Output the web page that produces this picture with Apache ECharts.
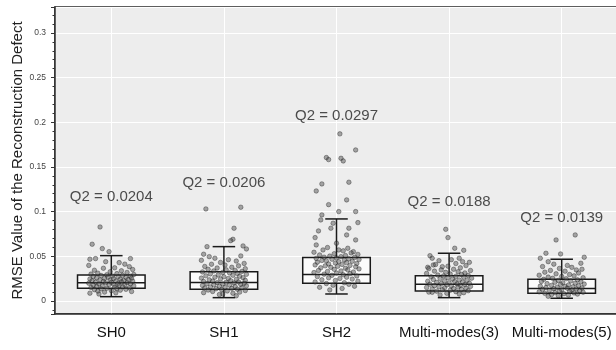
<!DOCTYPE html>
<html>
<head>
<meta charset="utf-8">
<script src="https://cdn.jsdelivr.net/npm/echarts@6/dist/echarts.min.js"></script>
<style>
  html, body { margin: 0; padding: 0; background: #fff; }
  #chart { width: 616px; height: 350px; }
</style>
</head>
<body>
<div id="chart"></div>
<script>
// categories and box stats [lower whisker, Q1, median, Q3, upper whisker]
const categories = ['SH0', 'SH1', 'SH2', 'Multi-modes(3)', 'Multi-modes(5)']
const boxStats = [
  [0.0048, 0.0142, 0.0204, 0.0291, 0.0507],
  [0.0037, 0.0131, 0.0206, 0.0328, 0.0608],
  [0.0078, 0.0198, 0.0297, 0.0485, 0.0918],
  [0.0037, 0.0112, 0.0188, 0.0283, 0.0534],
  [0.0030, 0.0086, 0.0139, 0.0243, 0.0467]
]
const q2Text = ['0.0204', '0.0206', '0.0297', '0.0188', '0.0139']
const labelY = [0.1168, 0.1318, 0.2074, 0.1110, 0.0932]

// jittered samples: [offset from category centre, value]
const ptsSH0 = [[-0.10,0.0828],[-0.17,0.0635],[-0.08,0.0586],[-0.02,0.0552],[0.17,0.0474],[-0.19,0.0467],[-0.14,0.0474],[-0.05,0.0440],[0.07,0.0429],[0.16,0.0384],[-0.11,0.0078],
  [0.12,0.0412],[-0.20,0.0398],[0.03,0.0371],[-0.07,0.0366],[0.19,0.0352],[-0.15,0.0344],[0.09,0.0338],[-0.01,0.0327],[0.14,0.0319],[-0.12,0.0311],[0.05,0.0306],[-0.18,0.0301],[0.20,0.0296],[-0.04,0.0293],[0.10,0.0288],[-0.09,0.0284],[0.01,0.0279],[0.17,0.0276],[-0.16,0.0273],[0.06,0.0270],[-0.03,0.0264],[0.13,0.0262],[-0.13,0.0259],[0.18,0.0255],[-0.06,0.0252],[0.02,0.0249],[-0.19,0.0246],[0.08,0.0243],[0.15,0.0239],[-0.10,0.0236],[-0.01,0.0233],[0.11,0.0230],[-0.17,0.0226],[0.04,0.0223],[0.19,0.0221],[-0.07,0.0218],[0.09,0.0214],[-0.14,0.0211],[0.00,0.0208],[0.14,0.0205],[-0.05,0.0202],[-0.20,0.0199],[0.06,0.0196],[0.17,0.0192],[-0.11,0.0189],[0.02,0.0186],[-0.02,0.0183],[0.12,0.0179],[-0.16,0.0175],[0.07,0.0172],[0.20,0.0168],[-0.08,0.0165],[-0.13,0.0161],[0.10,0.0158],[0.03,0.0154],[-0.18,0.0151],[0.16,0.0147],[-0.04,0.0143],[0.05,0.0139],[-0.09,0.0135],[0.13,0.0130],[-0.15,0.0126],[0.08,0.0121],[0.00,0.0116],[-0.12,0.0111],[0.18,0.0106],[-0.06,0.0099],[0.04,0.0091],[-0.19,0.0087]]
const ptsSH1 = [[-0.16,0.1030],[0.15,0.1049],[0.09,0.0814],[0.08,0.0690],[0.06,0.0675],[-0.15,0.0608],[0.17,0.0616],[0.20,0.0582],[-0.18,0.0523],[-0.13,0.0496],[0.15,0.0504],[-0.01,0.0078],
  [-0.08,0.0478],[0.04,0.0462],[-0.20,0.0455],[0.11,0.0447],[-0.03,0.0431],[0.18,0.0420],[-0.11,0.0411],[0.01,0.0402],[0.13,0.0393],[-0.17,0.0386],[0.07,0.0377],[-0.06,0.0369],[0.19,0.0361],[-0.14,0.0354],[0.02,0.0348],[0.10,0.0341],[-0.09,0.0336],[0.16,0.0330],[-0.19,0.0325],[-0.01,0.0319],[0.05,0.0314],[0.12,0.0308],[-0.12,0.0303],[0.20,0.0298],[-0.05,0.0292],[0.08,0.0287],[-0.16,0.0281],[0.14,0.0276],[0.00,0.0271],[-0.08,0.0266],[0.17,0.0261],[-0.20,0.0256],[0.04,0.0251],[-0.03,0.0246],[0.11,0.0241],[-0.13,0.0236],[0.19,0.0231],[0.06,0.0227],[-0.10,0.0222],[-0.18,0.0218],[0.13,0.0213],[0.02,0.0209],[-0.06,0.0205],[0.09,0.0201],[0.18,0.0197],[-0.15,0.0193],[-0.01,0.0189],[0.15,0.0185],[-0.09,0.0181],[0.05,0.0177],[-0.19,0.0173],[0.20,0.0169],[-0.04,0.0165],[0.10,0.0161],[-0.12,0.0157],[0.01,0.0153],[0.16,0.0149],[-0.17,0.0145],[0.07,0.0141],[-0.07,0.0137],[0.12,0.0132],[-0.02,0.0127],[-0.14,0.0122],[0.19,0.0117],[0.03,0.0112],[-0.10,0.0106],[0.14,0.0099],[-0.18,0.0093],[0.08,0.0086],[-0.04,0.0072],[0.11,0.0058]]
const ptsSH2 = [[0.03,0.1870],[0.17,0.1690],[-0.09,0.1605],[-0.07,0.1582],[0.04,0.1597],[0.06,0.1567],[0.11,0.1329],[-0.13,0.1310],[-0.18,0.1231],[0.09,0.1131],[-0.07,0.1078],[0.02,0.1000],[0.17,0.1000],[-0.13,0.0963],
  [-0.14,0.0907],[-0.03,0.0870],[0.19,0.0877],[0.11,0.0814],[-0.16,0.0784],[-0.05,0.0814],[0.09,0.0739],[-0.19,0.0709],[0.00,0.0646],[0.17,0.0683],[-0.18,0.0627],[-0.12,0.0571],[0.02,0.0571],[0.10,0.0590],[0.15,0.0552],
  [-0.08,0.0598],[0.06,0.0561],[-0.20,0.0545],[0.13,0.0538],[-0.02,0.0529],[0.19,0.0521],[-0.15,0.0515],[0.08,0.0508],[-0.06,0.0502],[0.04,0.0496],[-0.11,0.0490],[0.16,0.0487],[0.00,0.0481],[-0.18,0.0476],[0.11,0.0472],[-0.04,0.0467],[0.20,0.0463],[0.07,0.0458],[-0.13,0.0453],[-0.09,0.0449],[0.14,0.0444],[0.02,0.0440],[-0.17,0.0434],[0.09,0.0429],[-0.01,0.0424],[0.18,0.0419],[-0.07,0.0414],[0.05,0.0409],[-0.19,0.0403],[0.12,0.0398],[-0.10,0.0393],[0.01,0.0388],[0.17,0.0382],[-0.05,0.0376],[-0.14,0.0371],[0.08,0.0365],[0.20,0.0359],[-0.02,0.0354],[0.10,0.0348],[-0.16,0.0342],[0.04,0.0336],[-0.08,0.0330],[0.15,0.0324],[-0.20,0.0318],[0.00,0.0312],[0.12,0.0306],[-0.11,0.0300],[0.06,0.0293],[-0.04,0.0287],[0.18,0.0280],[-0.17,0.0273],[0.09,0.0266],[-0.07,0.0259],[0.03,0.0252],[0.14,0.0245],[-0.13,0.0237],[-0.01,0.0229],[0.19,0.0221],[-0.19,0.0213],[0.07,0.0204],[-0.09,0.0195],[0.11,0.0186],[-0.03,0.0176],[0.16,0.0165],[-0.15,0.0153],[0.05,0.0140],[-0.06,0.0124]]
const ptsM3 = [[-0.03,0.0802],[-0.01,0.0709],[0.05,0.0590],[0.13,0.0567],[-0.17,0.0507],[-0.15,0.0478],[0.09,0.0478],[-0.19,0.0377],[-0.14,0.0403],[-0.06,0.0384],[0.12,0.0440],[-0.15,0.0097],
  [0.02,0.0462],[-0.09,0.0451],[0.18,0.0432],[0.06,0.0419],[-0.12,0.0408],[0.15,0.0396],[-0.01,0.0389],[0.10,0.0371],[-0.18,0.0362],[0.04,0.0355],[-0.07,0.0348],[0.19,0.0341],[-0.13,0.0334],[0.08,0.0327],[-0.03,0.0320],[0.14,0.0314],[-0.20,0.0308],[0.01,0.0302],[0.11,0.0296],[-0.10,0.0290],[0.17,0.0285],[-0.05,0.0280],[0.06,0.0275],[-0.16,0.0270],[0.13,0.0265],[-0.01,0.0260],[0.20,0.0255],[-0.08,0.0250],[0.03,0.0245],[-0.14,0.0240],[0.09,0.0235],[0.16,0.0230],[-0.04,0.0226],[-0.19,0.0221],[0.05,0.0217],[0.12,0.0212],[-0.11,0.0208],[0.00,0.0203],[0.18,0.0199],[-0.07,0.0195],[0.07,0.0191],[-0.17,0.0187],[0.14,0.0183],[-0.02,0.0179],[0.10,0.0175],[-0.13,0.0171],[0.02,0.0167],[0.19,0.0163],[-0.09,0.0159],[0.08,0.0155],[-0.20,0.0151],[-0.04,0.0147],[0.15,0.0143],[0.04,0.0139],[-0.15,0.0135],[0.11,0.0130],[-0.06,0.0125],[0.01,0.0120],[0.17,0.0115],[-0.11,0.0110],[0.06,0.0104],[-0.18,0.0099],[0.13,0.0093],[-0.02,0.0086],[0.09,0.0078],[-0.08,0.0068]]
const ptsM5 = [[0.12,0.0739],[-0.05,0.0683],[-0.14,0.0534],[-0.01,0.0526],[-0.19,0.0478],[0.20,0.0489],[-0.12,0.0440],[0.17,0.0422],[0.13,0.0347],
  [-0.07,0.0412],[0.05,0.0398],[-0.17,0.0385],[0.09,0.0376],[-0.02,0.0364],[0.18,0.0355],[-0.10,0.0342],[0.03,0.0333],[-0.15,0.0322],[0.15,0.0313],[-0.05,0.0304],[0.07,0.0296],[-0.20,0.0288],[0.11,0.0281],[0.00,0.0274],[-0.12,0.0267],[0.19,0.0260],[-0.08,0.0254],[0.04,0.0248],[-0.16,0.0242],[0.14,0.0236],[-0.03,0.0230],[0.08,0.0224],[-0.18,0.0219],[0.17,0.0214],[-0.06,0.0209],[0.01,0.0204],[0.12,0.0199],[-0.13,0.0194],[0.20,0.0189],[-0.01,0.0184],[0.06,0.0179],[-0.09,0.0174],[0.15,0.0170],[-0.19,0.0166],[0.03,0.0162],[0.10,0.0158],[-0.04,0.0154],[-0.14,0.0150],[0.18,0.0146],[0.05,0.0142],[-0.07,0.0138],[0.13,0.0134],[-0.17,0.0130],[0.00,0.0126],[0.09,0.0122],[-0.11,0.0118],[0.16,0.0114],[-0.02,0.0110],[0.07,0.0106],[-0.20,0.0102],[0.19,0.0098],[-0.06,0.0094],[0.11,0.0090],[-0.15,0.0086],[0.02,0.0082],[0.14,0.0077],[-0.09,0.0072],[0.06,0.0066],[-0.03,0.0059],[-0.12,0.0052]]
const samples = [ptsSH0, ptsSH1, ptsSH2, ptsM3, ptsM5]

const font = 'Liberation Sans, Arial, Helvetica, sans-serif'

const scatterData = []
samples.forEach(function (pts, i) {
  pts.forEach(function (p) {
    scatterData.push([i + p[0], p[1]])
  })
})

const chart = echarts.init(document.getElementById('chart'))
chart.setOption({
  animation: false,
  grid: {
    left: 55,
    right: -2,
    top: 7,
    bottom: 36,
    outerBoundsMode: 'none',
    containLabel: false,
    show: true,
    backgroundColor: '#ededed',
    borderColor: '#2a2a2a',
    borderWidth: 1.5
  },
  xAxis: [{
    type: 'category',
    data: categories,
    axisLine: { onZero: false, lineStyle: { color: '#2a2a2a', width: 1.5 } },
    axisTick: { alignWithLabel: true, length: 5, lineStyle: { color: '#333' } },
    axisLabel: { interval: 0, color: '#111', fontSize: 15, margin: 11, fontFamily: font },
    splitLine: { show: false }
  }, {
    type: 'value',
    min: -0.5,
    max: 4.5,
    position: 'top',
    axisLine: { show: false, onZero: false },
    axisTick: { show: false },
    axisLabel: { show: false },
    splitLine: { show: true, lineStyle: { color: '#ffffff', width: 1 } }
  }],
  yAxis: {
    type: 'value',
    min: -0.0146,
    max: 0.329,
    splitNumber: 7,
    name: 'RMSE Value of the Reconstruction Defect',
    nameLocation: 'middle',
    nameGap: 30,
    nameMoveOverlap: false,
    nameTextStyle: { color: '#222', fontSize: 15, fontFamily: font },
    axisLine: { show: true, onZero: false, lineStyle: { color: '#2a2a2a', width: 1.5 } },
    axisTick: { show: true, length: 4, lineStyle: { color: '#333' } },
    minorTick: { show: true, splitNumber: 5, length: 2.5, lineStyle: { color: '#333' } },
    axisLabel: { color: '#444', fontSize: 8.5, margin: 9, showMinLabel: false, showMaxLabel: false, fontFamily: font },
    splitLine: { show: true, lineStyle: { color: '#ffffff', width: 1 } }
  },
  series: [{
    type: 'custom',
    xAxisIndex: 0,
    z: 2,
    data: boxStats.map(function (b, i) { return [i].concat(b) }),
    renderItem: function (params, api) {
      const i = api.value(0)
      const band = api.size([1, 0])[0]
      const hw = band * 0.3
      const cw = band * 0.1
      const pLo = api.coord([i, api.value(1)])
      const pQ1 = api.coord([i, api.value(2)])
      const pMed = api.coord([i, api.value(3)])
      const pQ3 = api.coord([i, api.value(4)])
      const pHi = api.coord([i, api.value(5)])
      const x = pMed[0]
      const ls = { stroke: '#1a1a1a', lineWidth: 1.5 }
      return {
        type: 'group',
        children: [
          { type: 'line', shape: { x1: x, y1: pQ3[1], x2: x, y2: pHi[1] }, style: ls },
          { type: 'line', shape: { x1: x, y1: pQ1[1], x2: x, y2: pLo[1] }, style: ls },
          { type: 'line', shape: { x1: x - cw, y1: pHi[1], x2: x + cw, y2: pHi[1] }, style: ls },
          { type: 'line', shape: { x1: x - cw, y1: pLo[1], x2: x + cw, y2: pLo[1] }, style: ls },
          { type: 'rect', shape: { x: x - hw, y: pQ3[1], width: hw * 2, height: pQ1[1] - pQ3[1] },
            style: { fill: 'rgba(255,255,255,0.75)', stroke: '#1a1a1a', lineWidth: 1.5 } },
          { type: 'line', shape: { x1: x - hw, y1: pMed[1], x2: x + hw, y2: pMed[1] }, style: ls }
        ]
      }
    }
  }, {
    type: 'scatter',
    xAxisIndex: 1,
    z: 3,
    symbolSize: 4.5,
    itemStyle: { color: 'rgba(80,80,80,0.6)', borderColor: 'rgba(20,20,20,0.75)', borderWidth: 0.6 },
    data: scatterData
  }, {
    type: 'scatter',
    xAxisIndex: 0,
    z: 4,
    symbolSize: 0,
    data: labelY.map(function (v, i) { return [i, v] }),
    label: {
      show: true,
      position: 'inside',
      color: '#222',
      fontSize: 15,
      fontFamily: font,
      formatter: function (p) { return 'Q2 = ' + q2Text[p.dataIndex] }
    }
  }]
})
</script>
</body>
</html>
